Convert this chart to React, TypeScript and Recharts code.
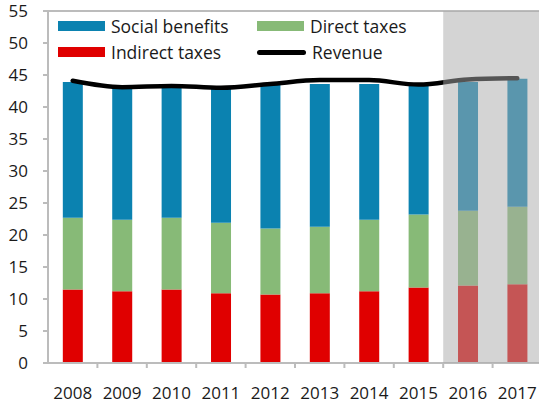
import { ComposedChart, Bar, Line, XAxis, YAxis, Legend, ReferenceArea, ReferenceLine } from "recharts";

const years = ["2008", "2009", "2010", "2011", "2012", "2013", "2014", "2015", "2016", "2017"];
const indirectTaxes = [11.5, 11.2, 11.5, 10.9, 10.7, 10.9, 11.2, 11.8, 12.1, 12.3];
const directTaxes = [11.2, 11.2, 11.2, 11.0, 10.3, 10.4, 11.2, 11.4, 11.7, 12.1];
const socialBenefits = [21.2, 20.7, 20.7, 21.2, 22.6, 22.3, 21.2, 20.2, 20.1, 20.0];
const revenue = [44.1, 43.1, 43.3, 43.0, 43.6, 44.2, 44.2, 43.5, 44.3, 44.5];
const yTicks = [0, 5, 10, 15, 20, 25, 30, 35, 40, 45, 50, 55];
const forecastYears = ["2016", "2017"];

const data = years.map((year, i) => ({
  year,
  indirect: indirectTaxes[i],
  direct: directTaxes[i],
  social: socialBenefits[i],
  revenue: revenue[i],
}));

const FONT = "'Open Sans', 'Noto Sans', sans-serif";
const AXIS_GREY = "#bcbcbc";
const BLUE = "#0b82b0";
const GREEN = "#87ba77";
const RED = "#e00000";

// year label under each band, tick mark on the band's right edge
const YearTick = (props: any) => {
  const { x, y, payload } = props;
  const half = payload.offset ?? 24.7;
  return (
    <g>
      <line x1={x + half} x2={x + half} y1={y} y2={y + 5} stroke={AXIS_GREY} strokeWidth={2} />
      <text x={x} y={y + 36} textAnchor="middle" fontSize={17} fontFamily={FONT} fill="#1a1a1a">
        {payload.value}
      </text>
    </g>
  );
};

const legendItems = [
  { label: "Social benefits", color: BLUE, kind: "box", left: 58, top: 13 },
  { label: "Direct taxes", color: GREEN, kind: "box", left: 257, top: 13 },
  { label: "Indirect taxes", color: RED, kind: "box", left: 58, top: 39 },
  { label: "Revenue", color: "#000", kind: "line", left: 257, top: 39 },
];

const renderLegend = () => (
  <div style={{ position: "relative", width: 420, height: 70, fontFamily: FONT, fontSize: 17.5, color: "#1a1a1a" }}>
    {legendItems.map((item) => (
      <div
        key={item.label}
        style={{ position: "absolute", left: item.left, top: item.top, height: 26, display: "flex", alignItems: "center" }}
      >
        {item.kind === "box" ? (
          <span style={{ width: 47, height: 10, background: item.color, display: "inline-block" }} />
        ) : (
          <span style={{ width: 49, height: 5, background: item.color, borderRadius: 3, display: "inline-block" }} />
        )}
        <span style={{ marginLeft: 6, whiteSpace: "nowrap" }}>{item.label}</span>
      </div>
    ))}
  </div>
);

export default function App() {
  return (
    <div style={{ width: 539, height: 407, overflow: "hidden", position: "relative" }}>
      <style>{`body { margin: 0; }`}</style>
      <ComposedChart
        width={542}
        height={407}
        data={data}
        margin={{ top: 11, right: 0, left: 0, bottom: 0 }}
        barCategoryGap="30%"
      >
        <XAxis
          dataKey="year"
          interval={0}
          height={44}
          tickSize={0}
          tickMargin={0}
          tick={<YearTick />}
          axisLine={{ stroke: AXIS_GREY, strokeWidth: 2 }}
          tickLine={false}
        />
        <YAxis
          domain={[0, 55]}
          ticks={yTicks}
          width={48}
          tickSize={5}
          tickMargin={15}
          interval={0}
          tick={{ fill: "#1a1a1a", fontSize: 17, fontFamily: FONT }}
          axisLine={{ stroke: AXIS_GREY, strokeWidth: 2 }}
          tickLine={{ stroke: AXIS_GREY, strokeWidth: 2 }}
        />
        <ReferenceLine y={55} stroke={AXIS_GREY} strokeWidth={2} />
        <Legend
          layout="horizontal"
          verticalAlign="middle"
          align="center"
          content={renderLegend}
          wrapperStyle={{ top: 0, left: 0, width: 420, height: 70 }}
        />
        <Bar dataKey="indirect" stackId="a" fill={RED} isAnimationActive={false} />
        <Bar dataKey="direct" stackId="a" fill={GREEN} isAnimationActive={false} />
        <Bar dataKey="social" stackId="a" fill={BLUE} isAnimationActive={false} />
        <Line
          dataKey="revenue"
          type="monotone"
          stroke="#000"
          strokeWidth={4.5}
          strokeLinecap="round"
          dot={false}
          activeDot={false}
          isAnimationActive={false}
        />
        <ReferenceArea
          x1={forecastYears[0]}
          x2={forecastYears[forecastYears.length - 1]}
          fill="#aaaaaa"
          fillOpacity={0.5}
          stroke="none"
          zIndex={1000}
        />
      </ComposedChart>
    </div>
  );
}
